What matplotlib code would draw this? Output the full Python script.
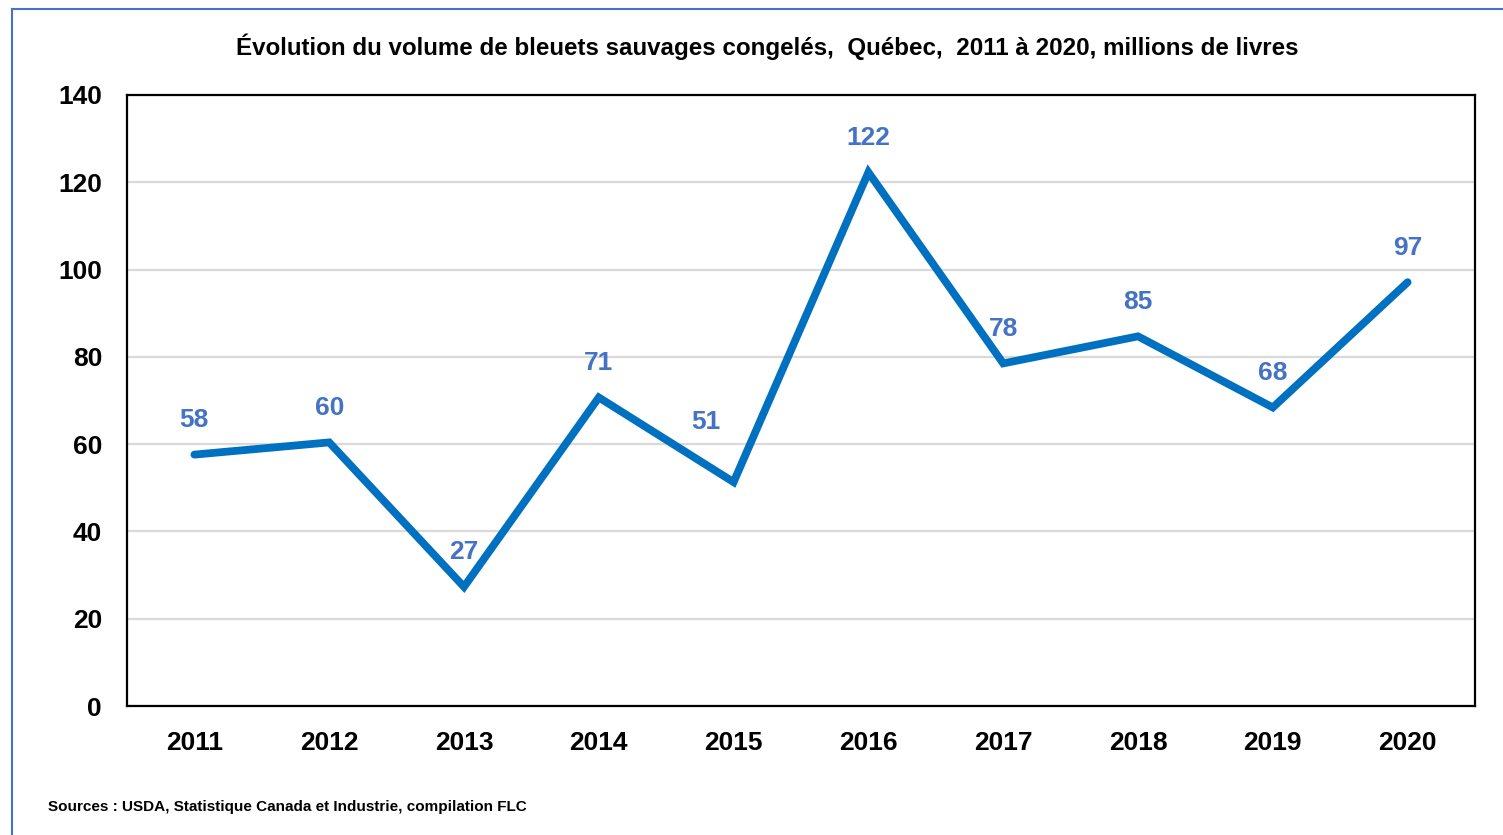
import matplotlib
matplotlib.use('Agg')
import matplotlib.pyplot as plt
from matplotlib.lines import Line2D

years = ['2011', '2012', '2013', '2014', '2015', '2016', '2017', '2018', '2019', '2020']
volumes = [57.6, 60.4, 27.3, 70.7, 51.3, 122.3, 78.5, 84.7, 68.4, 97.1]
label_dx = [0, 0, 0, 0, -20, 0, 0, 0, 0, 0]
label_dy = [0, 0, 0, 0, 18, 0, 0, 0, 0, 0]

title = 'Évolution du volume de bleuets sauvages congelés,  Québec,  2011 à 2020, millions de livres'
source = 'Sources : USDA, Statistique Canada et Industrie, compilation FLC'

plt.rcParams['font.family'] = ['Liberation Sans Narrow', 'Liberation Sans', 'DejaVu Sans']
plt.rcParams['font.weight'] = 'bold'

fig = plt.figure(figsize=(15.03, 8.35), dpi=100)
W, H = 1503, 835
ax = fig.add_axes([127 / W, 1 - 706 / H, (1475 - 127) / W, (706 - 95) / H])

x = list(range(len(years)))
ax.plot(x, volumes, color='#0070C0', lw=5.6, solid_capstyle='round',
        solid_joinstyle='miter', zorder=3)
for xi, v, dx, dy in zip(x, volumes, label_dx, label_dy):
    ax.annotate(f'{round(v):d}', (xi, v), xytext=(dx, 25 + dy), textcoords='offset points',
                ha='center', va='center', color='#4472C4', fontsize=19, fontweight='bold')

ax.set_xlim(-0.5, len(years) - 0.5)
ax.set_ylim(0, 140)
ax.set_yticks(range(0, 141, 20))
ax.set_xticks(x)
ax.set_xticklabels(years)
ax.tick_params(axis='both', length=0, labelsize=19)
ax.tick_params(axis='y', pad=18)
ax.tick_params(axis='x', pad=18)
ax.yaxis.grid(True, color='#D9D9D9', lw=1.6)
ax.set_axisbelow(True)
for s in ax.spines.values():
    s.set_linewidth(1.6)
    s.set_color('black')

fig.text(767 / W, 1 - 47 / H, title, ha='center', va='center', fontsize=17.4, fontweight='bold')
fig.text(48 / W, 1 - 807 / H, source, ha='left', va='center', fontsize=11, fontweight='bold')

# blue frame around the chart (right and bottom sides fall outside the image)
fig.add_artist(Line2D([12 / W, 1], [1 - 9 / H, 1 - 9 / H], color='#4472C4', lw=1.5,
                      transform=fig.transFigure))
fig.add_artist(Line2D([12 / W, 12 / W], [0, 1 - 9 / H], color='#4472C4', lw=1.5,
                      transform=fig.transFigure))

fig.savefig('out.png', dpi=100)
